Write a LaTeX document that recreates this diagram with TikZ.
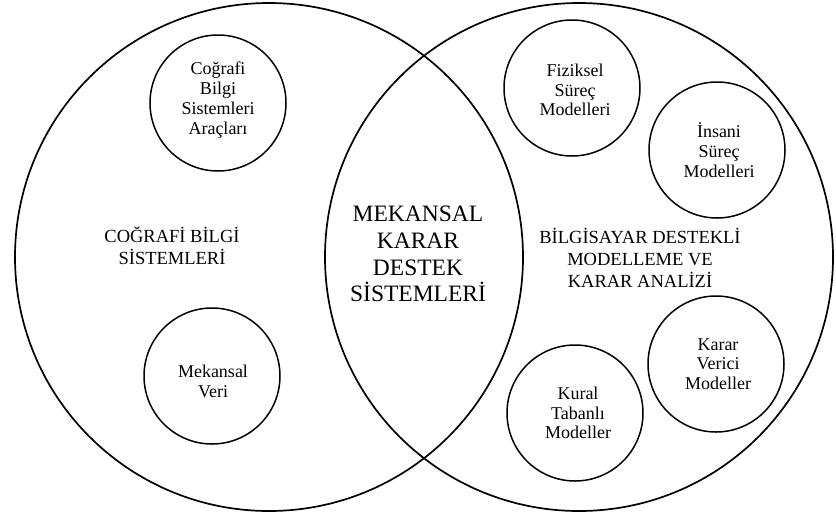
\documentclass[tikz,border=0pt]{standalone}
\usepackage{fontspec}
\setmainfont{Liberation Serif}
\begin{document}
\begin{tikzpicture}[x=1pt,y=-1pt,
  bigset/.style={circle,draw,line width=1.7pt,inner sep=0pt,minimum size=508pt},
  subset/.style={circle,draw,line width=1.5pt,inner sep=0pt,minimum size=136pt},
  smalltext/.style={align=center,inner sep=0pt,font=\fontsize{18}{19.8}\selectfont},
  areatext/.style={align=center,inner sep=0pt,font=\fontsize{18.5}{21.8}\selectfont},
  coretext/.style={align=center,inner sep=0pt,font=\fontsize{23.5}{26.7}\selectfont}]
\useasboundingbox (0,0) rectangle (836,515);
% two overlapping sets
\node[bigset] (cbs) at (269,257) {};
\node[bigset] (bdm) at (579,257) {};
% sub-circles of the left set
\node[subset] (arac) at (218,103) {};
\node[subset] (veri) at (212,376) {};
% sub-circles of the right set
\node[subset] (fiz) at (572,88) {};
\node[subset] (ins) at (717,150) {};
\node[subset] (kv) at (716,364) {};
\node[subset] (kt) at (575,413) {};
% labels
\node[smalltext] (tarac) at (218,100) {Coğrafi\\Bilgi\\Sistemleri\\Araçları};
\node[smalltext] (tveri) at (213,381) {Mekansal\\Veri};
\node[smalltext] (tfiz) at (575,90) {Fiziksel\\Süreç\\Modelleri};
\node[smalltext] (tins) at (719,150) {İnsani\\Süreç\\Modelleri};
\node[smalltext] (tkv) at (718,364) {Karar\\Verici\\Modeller};
\node[smalltext] (tkt) at (578,413) {Kural\\Tabanlı\\Modeller};
\node[areatext] (tcbs) at (172,246) {COĞRAFİ BİLGİ\\SİSTEMLERİ};
\node[areatext] (tbdm) at (640,258) {BİLGİSAYAR DESTEKLİ\\MODELLEME VE\\KARAR ANALİZİ};
\node[coretext] (tmk) at (418,254) {MEKANSAL\\KARAR\\DESTEK\\SİSTEMLERİ};
\end{tikzpicture}
\end{document}
